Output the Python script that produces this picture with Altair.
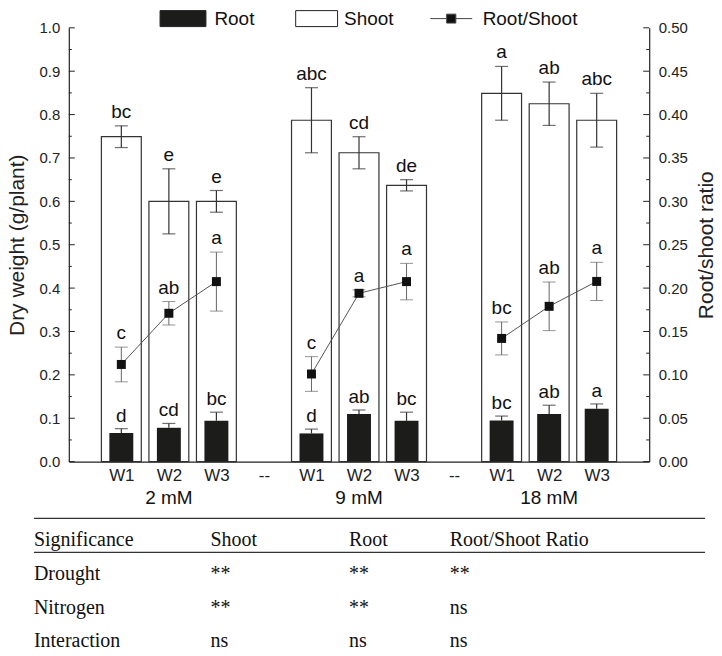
import json
import altair as alt
import pandas as pd

# ---------------- data ----------------
slot_labels = ["W1", "W2", "W3", "--", "W1", "W2", "W3", "--", "W1", "W2", "W3"]
groups = ["2 mM", "9 mM", "18 mM"]

shoot = [0.749, 0.600, 0.600, 0.787, 0.712, 0.637, 0.849, 0.825, 0.787]
shoot_err = [0.025, 0.075, 0.025, 0.075, 0.037, 0.013, 0.062, 0.050, 0.062]
shoot_sig = ["bc", "e", "e", "abc", "cd", "de", "a", "ab", "abc"]

root = [0.066, 0.078, 0.094, 0.065, 0.110, 0.094, 0.095, 0.110, 0.122]
root_err = [0.010, 0.010, 0.020, 0.010, 0.009, 0.020, 0.010, 0.020, 0.011]
root_sig = ["d", "cd", "bc", "d", "ab", "bc", "bc", "ab", "a"]

ratio = [0.112, 0.171, 0.2075, 0.101, 0.194, 0.2075, 0.142, 0.179, 0.2077]
ratio_err = [0.020, 0.0135, 0.034, 0.020, 0.004, 0.021, 0.019, 0.028, 0.022]
ratio_sig = ["c", "ab", "a", "c", "a", "a", "bc", "ab", "a"]

legend_items = ["Root", "Shoot", "Root/Shoot"]

table_header = ["Significance", "Shoot", "Root", "Root/Shoot Ratio"]
table_factors = ["Drought", "Nitrogen", "Interaction"]
sig_shoot = ["**", "**", "ns"]
sig_root = ["**", "**", "ns"]
sig_ratio = ["**", "ns", "ns"]

left_major = [0.0, 0.1, 0.2, 0.3, 0.4, 0.5, 0.6, 0.7, 0.8, 0.9, 1.0]
left_minor = [0.05, 0.15, 0.25, 0.35, 0.45, 0.55, 0.65, 0.75, 0.85, 0.95]
right_major = [0.0, 0.05, 0.10, 0.15, 0.20, 0.25, 0.30, 0.35, 0.40, 0.45, 0.50]
right_minor = [0.025, 0.075, 0.125, 0.175, 0.225, 0.275, 0.325, 0.375, 0.425, 0.475]

# ---------------- tables for the library ----------------
positions = [i + 1 for i, s in enumerate(slot_labels) if s != "--"]
grp_of = [groups[i // 3] for i in range(len(positions))]
df = pd.DataFrame({
    "pos": positions,
    "group": grp_of,
    "shoot": shoot,
    "shoot_lo": [v - e for v, e in zip(shoot, shoot_err)],
    "shoot_hi": [v + e for v, e in zip(shoot, shoot_err)],
    "shoot_sig": shoot_sig,
    "root": root,
    "root_hi": [v + e for v, e in zip(root, root_err)],
    "root_sig": root_sig,
    "ratio": ratio,
    "ratio_lo": [v - e for v, e in zip(ratio, ratio_err)],
    "ratio_hi": [v + e for v, e in zip(ratio, ratio_err)],
    "ratio_sig": ratio_sig,
})
gdf = df.groupby("group", sort=False)["pos"].mean().reset_index(name="center")

FONT = "Liberation Sans"
W, H = 582, 435
DARK = "#1c1c1a"
SIGF = 19

xscale = alt.Scale(domain=[0, 12], nice=False, zero=False)
x_axis = alt.Axis(
    values=list(range(1, 12)),
    labelExpr=json.dumps(slot_labels) + "[datum.value - 1]",
    ticks=False, tickSize=0, domain=True, domainColor="#222", domainWidth=1.2,
    labelFont=FONT, labelFontSize=17, labelColor="#222", labelPadding=6,
    labelOverlap=False, labelFlush=False, labelBound=False, grid=False, title=None,
)

lscale = alt.Scale(domain=[0, 1], nice=False, zero=True)
l_title = "Dry weight (g/plant)"
l_axis = alt.Axis(
    values=left_major, format=".1f", ticks=False, tickSize=0, domain=True, domainColor="#222",
    domainWidth=1.2, labelFont=FONT, labelFontSize=15, labelColor="#222", labelPadding=9,
    title=l_title, titleFont=FONT, titleFontSize=21, titleFontWeight="normal",
    titleColor="#222", titlePadding=12, grid=False, labelOverlap=False,
)
rscale = alt.Scale(domain=[0, 0.5], nice=False, zero=True)
r_title = "Root/shoot ratio"
r_axis = alt.Axis(
    orient="right", values=right_major, format=".2f", ticks=False, tickSize=0, domain=True,
    domainColor="#222", domainWidth=1.2, labelFont=FONT, labelFontSize=15, labelColor="#222",
    labelPadding=9, title=r_title, titleFont=FONT, titleFontSize=21,
    titleFontWeight="normal", titleColor="#222", titlePadding=8, titleAngle=270,
    titleBaseline="top", grid=False, labelOverlap=False,
)


def X():
    return alt.X("pos:Q", scale=xscale, axis=x_axis, title=None)


def YL(f):
    return alt.Y(f, type="quantitative", scale=lscale, axis=l_axis, title=l_title)


def YR(f):
    return alt.Y(f, type="quantitative", scale=rscale, axis=r_axis, title=r_title)


base = alt.Chart(df)

shoot_bars = base.mark_bar(width=40, fill="white", stroke="#333", strokeWidth=1.2).encode(
    x=X(), y=YL("shoot"))
shoot_rule = base.mark_rule(color="#333", strokeWidth=1.2).encode(
    x=X(), y=YL("shoot_lo"), y2="shoot_hi")
shoot_caps = base.transform_fold(["shoot_lo", "shoot_hi"], as_=["k", "cap"]).mark_tick(
    orient="horizontal", size=13, thickness=1.2, color="#333").encode(x=X(), y=YL("cap:Q"))
root_bars = base.mark_bar(width=24, color=DARK).encode(x=X(), y=YL("root"))
root_rule = base.mark_rule(color="#333", strokeWidth=1.2).encode(
    x=X(), y=YL("root"), y2="root_hi")
root_cap = base.mark_tick(orient="horizontal", size=13, thickness=1.2, color="#333").encode(
    x=X(), y=YL("root_hi"))
shoot_text = base.mark_text(fontSize=SIGF, dy=-8, baseline="alphabetic", color="#111").encode(
    x=X(), y=YL("shoot_hi"), text="shoot_sig:N")
root_text = base.mark_text(fontSize=SIGF, dy=-7, baseline="alphabetic", color="#111").encode(
    x=X(), y=YL("root_hi"), text="root_sig:N")

lmaj = alt.Chart(pd.DataFrame({"v": left_major})).mark_rule(color="#222").encode(
    y=YL("v"), x=alt.value(0), x2=alt.value(6))
lmin = alt.Chart(pd.DataFrame({"v": left_minor})).mark_rule(color="#222").encode(
    y=YL("v"), x=alt.value(0), x2=alt.value(3))

group_text = alt.Chart(gdf).mark_text(fontSize=19, baseline="middle", color="#111").encode(
    x=alt.X("center:Q", scale=xscale, axis=x_axis, title=None),
    y=alt.value(H + 36), text="group:N")

# legend symbols (unit = 8 px, symbol box 16 px)
root_path = "M-1,-1H4.75V1H-1Z"
shoot_path = "M-0.25,-1H5V1H-0.25Z"
ratio_path = "M-0.75,0H1.3M2.45,0H4.5M1.3,-0.56H2.45V0.56H1.3Z"
leg = alt.Legend(
    orient="none", legendX=90, legendY=-19, direction="horizontal", title=None,
    labelFont=FONT, labelFontSize=19, labelColor="#111", symbolSize=256,
    symbolStrokeWidth=1, columnPadding=33, labelOffset=37,
)
legend_layer = alt.Chart(pd.DataFrame({"series": legend_items})).mark_point(
    filled=True, clip=True, strokeWidth=1, opacity=1).encode(
    x=alt.value(-2000), y=alt.value(-2000),
    fill=alt.Fill("series:N", scale=alt.Scale(domain=legend_items, range=[DARK, "white", "#111"]),
                  legend=leg),
    stroke=alt.Stroke("series:N", scale=alt.Scale(domain=legend_items,
                                                   range=["#222", "#222", "#444"]), legend=leg),
    shape=alt.Shape("series:N", scale=alt.Scale(domain=legend_items,
                                                 range=[root_path, shoot_path, ratio_path]),
                    legend=leg),
)

left = alt.layer(shoot_bars, shoot_rule, shoot_caps, root_bars, root_rule, root_cap,
                 shoot_text, root_text, lmaj, lmin, group_text, legend_layer)

ratio_line = base.mark_line(color="#555", strokeWidth=1).encode(
    x=X(), y=YR("ratio"), detail="group:N")
ratio_rule = base.mark_rule(color="#666", strokeWidth=1).encode(
    x=X(), y=YR("ratio_lo"), y2="ratio_hi")
ratio_caps = base.transform_fold(["ratio_lo", "ratio_hi"], as_=["k", "cap"]).mark_tick(
    orient="horizontal", size=13, thickness=1, color="#666").encode(x=X(), y=YR("cap:Q"))
ratio_pts = base.mark_square(size=81, color="#111", opacity=1).encode(x=X(), y=YR("ratio"))
ratio_text = base.mark_text(fontSize=SIGF, dy=-8, baseline="alphabetic", color="#111").encode(
    x=X(), y=YR("ratio_hi"), text="ratio_sig:N")
rmaj = alt.Chart(pd.DataFrame({"v": right_major})).mark_rule(color="#222").encode(
    y=YR("v"), x=alt.value(W), x2=alt.value(W - 6))
rmin = alt.Chart(pd.DataFrame({"v": right_minor})).mark_rule(color="#222").encode(
    y=YR("v"), x=alt.value(W), x2=alt.value(W - 3))

right = alt.layer(ratio_line, ratio_rule, ratio_caps, ratio_pts, ratio_text, rmaj, rmin)

main = alt.layer(left, right).resolve_scale(y="independent").properties(
    width=W, height=H, view=alt.ViewBackground(stroke=None, strokeWidth=0))

# ---------------- significance table ----------------
cells = []
for c, h in enumerate(table_header):
    cells.append({"r": 0, "c": c, "t": h})
for r, f in enumerate(table_factors, start=1):
    cells.append({"r": r, "c": 0, "t": f})
    for c, vals in enumerate([sig_shoot, sig_root, sig_ratio], start=1):
        cells.append({"r": r, "c": c, "t": vals[r - 1]})
tdf = pd.DataFrame(cells)

one = pd.DataFrame({"k": [0]})
line1 = alt.Chart(one).mark_rule(color="#333", strokeWidth=1.2).encode(
    x=alt.value(-35), x2=alt.value(638), y=alt.value(0))
line2 = alt.Chart(one).mark_rule(color="#333", strokeWidth=1.2).encode(
    x=alt.value(-35), x2=alt.value(638), y=alt.value(34))
table_text = alt.Chart(tdf).mark_text(
    align="left", baseline="middle", font="Liberation Serif", fontSize=20, color="#111").encode(
    x=alt.X("c:Q", scale=alt.Scale(domain=[0, 1, 2, 3], range=[-35, 142, 281, 382]), axis=None),
    y=alt.Y("r:Q", scale=alt.Scale(domain=[0, 3], range=[22, 123]), axis=None),
    text="t:N",
)
table = alt.layer(line1, line2, table_text).properties(
    width=W, height=125, view=alt.ViewBackground(stroke=None, strokeWidth=0))

chart = alt.vconcat(main, table, spacing=10).properties(
    padding={"left": 6, "top": 8, "right": 5, "bottom": 0}
).configure_view(stroke=None, strokeWidth=0).configure(font=FONT)

chart.save("out.html", embed_options={"renderer": "svg", "actions": False})
